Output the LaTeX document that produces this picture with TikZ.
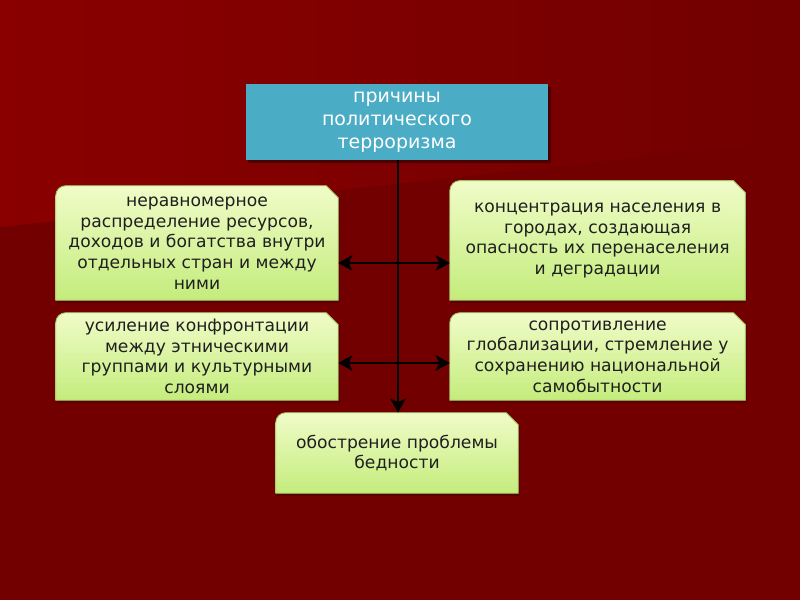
\documentclass[tikz,border=0pt]{standalone}
\usepackage{fontspec}
\setmainfont{DejaVu Sans}
\usetikzlibrary{positioning, calc, arrows.meta, backgrounds}

\definecolor{bgred}{HTML}{720000}
\definecolor{bgtop}{HTML}{8A0000}
\definecolor{tealbox}{HTML}{4BACC6}
\definecolor{boxtop}{HTML}{F0FCC8}
\definecolor{boxbot}{HTML}{C4EC7C}
\definecolor{boxline}{HTML}{A2C062}
\definecolor{shadowred}{HTML}{4A0000}

\tikzset{
  headbox/.style={fill=tealbox, text=white, align=center, inner sep=0pt,
    minimum width=7.55cm, minimum height=1.9cm,
    font=\fontsize{13.5}{16.4}\selectfont},
  cause/.style={align=center, inner sep=0pt, text=black!88,
    font=\fontsize{12.2}{14.7}\selectfont},
  link/.style={line width=2pt, black},
  tip/.tip={Stealth[length=10pt, width=11pt, inset=2.5pt]},
}

\begin{document}
\begin{tikzpicture}
\useasboundingbox (0,0) rectangle (20,15);

% Title
\node[headbox] (causes) at (9.925,11.95) {причины\\политического\\терроризма};

% Causes
\node[cause, minimum width=7.05cm, minimum height=2.85cm] (uneven) at (4.925,8.925)
  {неравномерное\\распределение ресурсов,\\доходов и богатства внутри\\отдельных стран и между\\ними};
\node[cause, minimum width=7.375cm, minimum height=2.975cm] (cities) at (14.94,8.99)
  {концентрация населения в\\городах, создающая\\опасность их перенаселения\\и деградации};
\node[cause, minimum width=7.05cm, minimum height=2.175cm] (conflict) at (4.925,6.0875)
  {усиление конфронтации\\между этническими\\группами и культурными\\слоями};
\node[cause, minimum width=7.375cm, minimum height=2.175cm] (resist) at (14.94,6.0875)
  {сопротивление\\глобализации, стремление у\\сохранению национальной\\самобытности};
\node[cause, minimum width=6.05cm, minimum height=2cm] (poverty) at (9.925,3.675)
  {обострение проблемы\\бедности};

% Junctions on the trunk
\coordinate (j1) at (9.95,8.425);
\coordinate (j2) at (9.95,5.925);

% Background and box shapes
\begin{scope}[on background layer]
\fill[bgred] (0,0) rectangle (20,15);
\shade[left color=bgtop, right color=bgred] (0,15) -- (20,15) -- (20,11.5) -- (0,9.325) -- cycle;
\fill[shadowred] ($(causes.south west)+(0.06,-0.08)$) rectangle ($(causes.north east)+(0.06,-0.08)$);
\foreach \n in {uneven,cities,conflict,resist,poverty} {
  \fill[shadowred, opacity=0.6] ($(\n.south west)+(0.04,-0.07)$) rectangle ($(\n.north east)+(0.04,-0.3)$);
  \shade[top color=boxtop, bottom color=boxbot, draw=boxline, line width=0.6pt]
    (\n.south west) -- (\n.south east) -- ($(\n.north east)+(0,-0.3)$) -- ($(\n.north east)+(-0.3,0)$)
    [rounded corners=0.25cm] -- (\n.north west) [sharp corners] -- cycle;
}
\end{scope}

% Connectors
\draw[link, -tip] (causes.south -| j1) -- (poverty.north -| j1);
\draw[link, tip-tip] (j1 -| uneven.east) -- (j1 -| cities.west);
\draw[link, tip-tip] (j2 -| conflict.east) -- (j2 -| resist.west);

\end{tikzpicture}
\end{document}
